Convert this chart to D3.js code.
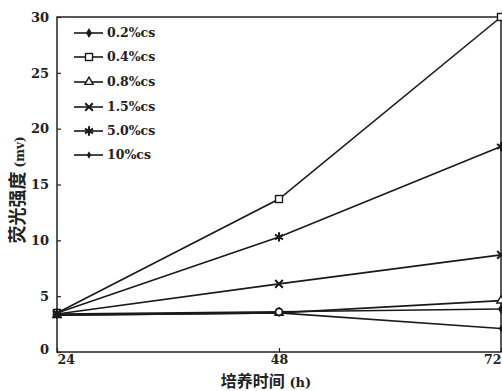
<!DOCTYPE html>
<html><head><meta charset="utf-8">
<script src="https://cdn.jsdelivr.net/npm/d3@7"></script>
<style>body{margin:0;background:#fff}svg{display:block}</style>
</head><body><svg id="c" width="502" height="391"></svg>
<script>
const hours = [24, 48, 72];
const seriesNames = ["0.2%cs", "0.4%cs", "0.8%cs", "1.5%cs", "5.0%cs", "10%cs"];
const s02 = [3.4, 3.6, 3.85];
const s04 = [3.5, 13.7, 30.0];
const s08 = [3.3, 3.5, 4.6];
const s15 = [3.4, 6.1, 8.7];
const s50 = [3.5, 10.3, 18.4];
const s10 = [3.3, 3.5, 2.1];
const yTicks = [0, 5, 10, 15, 20, 25, 30];
const symbols = ["diamond", "square", "triangle", "x", "star", "smalldiamond"];
const seriesValues = [s02, s04, s08, s15, s50, s10];

const svg = d3.select("#c");
const m = {l: 57, r: 501, t: 17, b: 352};
const x = d3.scaleLinear().domain([24, 72]).range([m.l, m.r]);
const y = d3.scaleLinear().domain([0, 30]).range([m.b, m.t]);
const serif = "'DejaVu Serif', 'Liberation Serif', serif";

svg.append("rect").attr("x", m.l).attr("y", m.t).attr("width", m.r - m.l).attr("height", m.b - m.t)
  .attr("fill", "none").attr("stroke", "#222").attr("stroke-width", 1.5);

const yAxis = svg.append("g").attr("transform", `translate(${m.l},0)`)
  .call(d3.axisLeft(y).tickValues(yTicks).tickSize(-4).tickPadding(8).tickFormat(d3.format("d")));
const xAxis = svg.append("g").attr("transform", `translate(0,${m.b})`)
  .call(d3.axisBottom(x).tickValues(hours).tickSize(-4).tickPadding(3));
[yAxis, xAxis].forEach(g => {
  g.select(".domain").remove();
  g.selectAll(".tick line").attr("stroke", "#222").attr("stroke-width", 1.2);
  g.selectAll("text").attr("font-family", serif).attr("font-weight", "bold").attr("font-size", 13).attr("fill", "#222");
});
yAxis.selectAll(".tick").filter(d => d === 0).select("text").attr("dy", "0.1em");
xAxis.selectAll(".tick text").attr("dy", "0.7em").attr("font-size", 12.5);
xAxis.selectAll(".tick").filter(d => d === 24).select("text").attr("text-anchor", "start").attr("dx", 0);
xAxis.selectAll(".tick").filter(d => d === 72).select("text").attr("text-anchor", "end").attr("dx", 0);

const line = d3.line().x((d, i) => x(hours[i])).y(d => y(d));
seriesValues.forEach(vals => {
  svg.append("path").datum(vals).attr("d", line).attr("fill", "none")
    .attr("stroke", "#1a1a1a").attr("stroke-width", 1.6);
});

function marker(g, type, cx, cy) {
  const c = "#1a1a1a";
  if (type === "diamond") g.append("path").attr("d", d3.symbol(d3.symbolDiamond, 30)()).attr("transform", `translate(${cx},${cy})`).attr("fill", c);
  else if (type === "smalldiamond") g.append("path").attr("d", d3.symbol(d3.symbolDiamond, 16)()).attr("transform", `translate(${cx},${cy})`).attr("fill", c);
  else if (type === "square") g.append("rect").attr("x", cx - 3.5).attr("y", cy - 3.5).attr("width", 7).attr("height", 7).attr("fill", "#fff").attr("stroke", c).attr("stroke-width", 1.4);
  else if (type === "triangle") g.append("path").attr("d", d3.symbol(d3.symbolTriangle, 30)()).attr("transform", `translate(${cx},${cy})`).attr("fill", "#fff").attr("stroke", c).attr("stroke-width", 1.4);
  else if (type === "x") g.append("path").attr("d", d3.symbol(d3.symbolTimes, 40)()).attr("transform", `translate(${cx},${cy})`).attr("fill", "none").attr("stroke", c).attr("stroke-width", 2);
  else if (type === "star") g.append("path").attr("d", d3.symbol(d3.symbolAsterisk, 60)()).attr("transform", `translate(${cx},${cy})`).attr("fill", "none").attr("stroke", c).attr("stroke-width", 2);
}
seriesValues.forEach((vals, si) => {
  vals.forEach((v, i) => marker(svg, symbols[si], x(hours[i]), y(v)));
});
svg.append("circle").attr("cx", x(48)).attr("cy", y(s02[1])).attr("r", 3.5).attr("fill", "#fff").attr("stroke", "#1a1a1a").attr("stroke-width", 1.8);

const lg = svg.append("g");
const rows = [33, 57, 82, 107, 131, 155];
seriesNames.forEach((n, i) => {
  const yy = rows[i];
  lg.append("line").attr("x1", 74).attr("x2", 103).attr("y1", yy).attr("y2", yy).attr("stroke", "#1a1a1a").attr("stroke-width", 1.6);
  marker(lg, symbols[i], 89, yy);
  lg.append("text").attr("x", 107).attr("y", yy).attr("dy", "0.35em").text(n)
    .attr("font-family", serif).attr("font-weight", "bold").attr("font-size", 12.5).attr("fill", "#222");
});

svg.append("text").attr("transform", "translate(24,190) rotate(-90)").attr("text-anchor", "middle")
  .attr("font-size", 18).attr("font-weight", "bold").attr("fill", "#222")
  .call(t => {
    t.append("tspan").attr("font-family", "'Noto Sans CJK SC'").text("荧光强度");
    t.append("tspan").attr("font-family", serif).attr("font-size", 12).text(" (mv)");
  });
svg.append("text").attr("x", 266).attr("y", 387).attr("text-anchor", "middle")
  .attr("font-size", 16).attr("font-weight", "bold").attr("fill", "#222")
  .call(t => {
    t.append("tspan").attr("font-family", "'Noto Sans CJK SC'").text("培养时间");
    t.append("tspan").attr("font-family", serif).attr("font-size", 13).text(" (h)");
  });
</script></body></html>
